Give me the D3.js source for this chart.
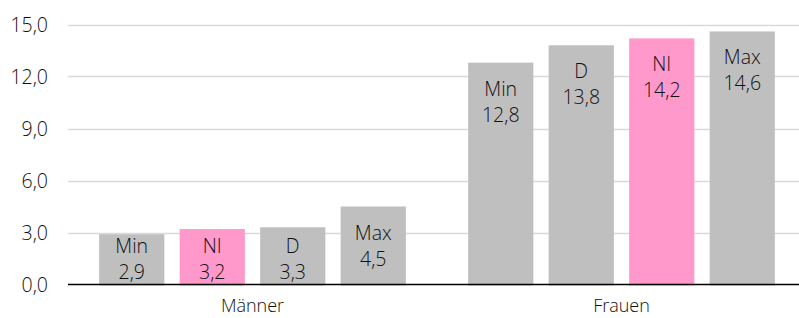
<!DOCTYPE html>
<html>
<head>
<meta charset="utf-8">
<script src="https://cdn.jsdelivr.net/npm/d3@7"></script>
<style>
    body { margin: 0; background: #fff; }
    svg text { font-family: "Open Sans", "Noto Sans", sans-serif; font-weight: 300; fill: #111; }
</style>
</head>
<body>
<svg id="chart" width="799" height="318"></svg>
<script>
var groups = ["Männer", "Frauen"];
var maennerLabels = ["Min", "NI", "D", "Max"];
var maennerValues = [2.9, 3.2, 3.3, 4.5];
var frauenLabels = ["Min", "D", "NI", "Max"];
var frauenValues = [12.8, 13.8, 14.2, 14.6];
var yTicks = [0, 3, 6, 9, 12, 15];

var rows = [];
maennerLabels.forEach(function(l, i) {
    rows.push({ group: "Männer", slot: i, label: l, value: maennerValues[i] });
});
frauenLabels.forEach(function(l, i) {
    rows.push({ group: "Frauen", slot: i, label: l, value: frauenValues[i] });
});

var fmt = function(v) {
    return d3.format(".1f")(v).replace(".", ",");
};

var svg = d3.select("#chart");
var left = 68, right = 799;

var y = d3.scaleLinear()
    .domain([0, 15])
    .range([284.5, 24.5]);

var x0 = d3.scaleBand()
    .domain(groups)
    .range([left, 806]);

var x1 = d3.scaleBand()
    .domain([0, 1, 2, 3])
    .range([0, x0.bandwidth()])
    .paddingInner(0.19)
    .paddingOuter(0.387);

// gridlines
svg.append("g")
    .selectAll("line")
    .data(yTicks.filter(function(d) { return d > 0; }))
    .enter().append("line")
    .attr("x1", left)
    .attr("x2", right)
    .attr("y1", function(d) { return Math.round(y(d)) + 0.5; })
    .attr("y2", function(d) { return Math.round(y(d)) + 0.5; })
    .style("stroke", "#d9d9d9")
    .style("stroke-width", 1.5);

// tick labels
svg.append("g")
    .selectAll("text")
    .data(yTicks)
    .enter().append("text")
    .attr("x", 48)
    .attr("y", function(d) { return y(d); })
    .attr("dy", "0.36em")
    .attr("text-anchor", "end")
    .style("font-size", "19.5px")
    .text(fmt);

// bars
var bars = svg.append("g")
    .selectAll("g")
    .data(rows)
    .enter().append("g")
    .attr("transform", function(d) {
        return "translate(" + (x0(d.group) + x1(d.slot)) + ",0)";
    });

bars.append("rect")
    .attr("x", 0)
    .attr("width", x1.bandwidth())
    .attr("y", function(d) { return y(d.value); })
    .attr("height", function(d) { return y(0) - y(d.value) + 1; })
    .style("fill", function(d) { return d.label == "NI" ? "#ff99cc" : "#bfbfbf"; });

function labelY(d) {
    return Math.min(y(d.value) + 26, y(0) - 39);
}

bars.append("text")
    .attr("x", x1.bandwidth() / 2)
    .attr("y", labelY)
    .attr("dy", "0.36em")
    .attr("text-anchor", "middle")
    .style("font-size", "19.5px")
    .text(function(d) { return d.label; });

bars.append("text")
    .attr("x", x1.bandwidth() / 2)
    .attr("y", function(d) { return labelY(d) + 26; })
    .attr("dy", "0.36em")
    .attr("text-anchor", "middle")
    .style("font-size", "19.5px")
    .text(function(d) { return fmt(d.value); });

// axis line
svg.append("line")
    .attr("x1", left)
    .attr("x2", right)
    .attr("y1", y(0))
    .attr("y2", y(0))
    .style("stroke", "#000")
    .style("stroke-width", 1.5);

// group labels
svg.append("g")
    .selectAll("text")
    .data(groups)
    .enter().append("text")
    .attr("x", function(d) { return x0(d) + x0.bandwidth() / 2; })
    .attr("y", 312)
    .attr("text-anchor", "middle")
    .style("font-size", "18px")
    .text(function(d) { return d; });
</script>
</body>
</html>
